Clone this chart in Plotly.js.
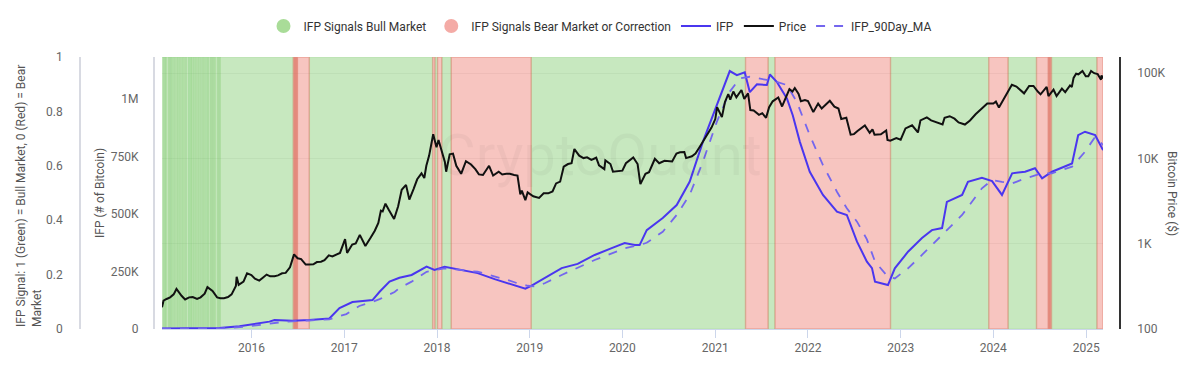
<!DOCTYPE html>
<html><head><meta charset="utf-8">
<script src="https://cdn.plot.ly/plotly-3.0.1.min.js"></script>
<style>html,body{margin:0;padding:0;background:#fff}#chart{width:1200px;height:378px}</style>
</head><body><div id="chart"></div>
<script>
// ---- Signal periods (start, end) ----
const bullPeriods = [
 ['2015-01-14','2015-01-20'],['2015-01-20','2015-01-24'],['2015-01-24','2015-01-28'],['2015-01-28','2015-01-31'],
 ['2015-01-31','2015-02-08'],['2015-02-08','2015-02-12'],['2015-02-12','2015-02-16'],['2015-02-16','2015-02-20'],
 ['2015-02-20','2015-02-24'],['2015-02-24','2015-03-01'],['2015-03-01','2015-03-06'],['2015-03-06','2015-03-11'],
 ['2015-03-11','2015-03-16'],['2015-03-16','2015-03-21'],['2015-03-21','2015-03-26'],['2015-03-26','2015-03-31'],
 ['2015-03-31','2015-04-05'],['2015-04-05','2015-04-10'],['2015-04-10','2015-04-15'],['2015-04-15','2015-04-20'],
 ['2015-04-20','2015-04-28'],['2015-04-28','2015-05-02'],['2015-05-02','2015-05-06'],['2015-05-06','2015-05-10'],
 ['2015-05-10','2015-05-13'],['2015-05-13','2015-05-18'],['2015-05-18','2015-05-23'],['2015-05-23','2015-05-28'],
 ['2015-05-28','2015-06-02'],['2015-06-02','2015-06-07'],['2015-06-07','2015-06-12'],['2015-06-12','2015-06-17'],
 ['2015-06-17','2015-06-22'],['2015-06-22','2015-06-27'],['2015-06-27','2015-07-02'],['2015-07-02','2015-07-07'],
 ['2015-07-07','2015-07-12'],['2015-07-12','2015-07-16'],['2015-07-16','2015-07-23'],['2015-07-23','2015-07-27'],
 ['2015-07-27','2015-07-31'],['2015-07-31','2015-08-04'],['2015-08-04','2015-08-08'],['2015-08-08','2015-08-12'],
 ['2015-08-12','2015-08-20'],['2015-08-20','2015-08-24'],['2015-08-24','2015-08-28'],['2015-08-28','2015-09-01'],
 ['2015-09-01','2016-06-14'],
 ['2016-08-16','2017-12-15'],
 ['2017-12-24','2018-01-03'],
 ['2018-01-20','2018-02-26'],
 ['2019-01-07','2021-04-30'],
 ['2021-07-28','2021-08-24'],
 ['2022-11-22','2023-12-14'],
 ['2024-02-28','2024-06-19'],
 ['2024-08-17','2025-02-12']
];
const bearPeriods = [
 ['2016-06-14','2016-06-18'],['2016-06-18','2016-06-22'],['2016-06-22','2016-06-26'],['2016-06-26','2016-06-30'],
 ['2016-06-30','2016-08-16'],
 ['2017-12-15','2017-12-24'],
 ['2018-01-03','2018-01-20'],
 ['2018-02-26','2019-01-07'],
 ['2021-04-30','2021-07-28'],
 ['2021-08-24','2022-11-22'],
 ['2023-12-14','2024-02-28'],
 ['2024-06-19','2024-08-05'],['2024-08-05','2024-08-09'],['2024-08-09','2024-08-13'],['2024-08-13','2024-08-17'],
 ['2025-02-12','2025-03-08']
];

// ---- IFP (# of Bitcoin) ----
const ifpDates = ['2015-01-14','2015-05-01','2015-08-28','2015-11-15','2016-01-13','2016-03-12','2016-04-01','2016-05-10','2016-06-11','2016-08-17','2016-10-01','2016-11-03','2016-12-13','2017-01-10','2017-02-02','2017-03-15','2017-04-22','2017-05-20','2017-06-28','2017-08-06','2017-09-23','2017-11-21','2017-12-22','2018-01-31','2018-04-08','2018-06-10','2018-08-16','2018-10-06','2018-11-22','2018-12-15','2019-01-07','2019-03-01','2019-05-07','2019-07-09','2019-09-14','2019-11-20','2020-01-10','2020-02-19','2020-03-09','2020-04-06','2020-06-08','2020-08-02','2020-09-22','2020-11-13','2021-01-07','2021-02-27','2021-03-27','2021-04-27','2021-05-17','2021-06-14','2021-07-23','2021-08-04','2021-08-31','2021-10-10','2021-11-02','2021-11-30','2022-01-08','2022-03-01','2022-04-25','2022-06-03','2022-07-13','2022-08-21','2022-09-10','2022-09-22','2022-11-12','2022-12-09','2023-01-30','2023-03-26','2023-05-04','2023-06-13','2023-07-02','2023-08-31','2023-09-23','2023-11-17','2023-12-27','2024-02-04','2024-03-15','2024-05-05','2024-06-13','2024-07-11','2024-08-19','2024-11-06','2024-11-30','2024-12-27','2025-02-05','2025-03-08'];
const ifpValues = [2000,3000,4000,12000,22000,32000,39000,37000,36000,39000,42000,46000,91000,105000,117000,122000,126000,162000,206000,223000,235000,271000,257000,271000,257000,243000,217000,200000,185000,175000,188000,222000,265000,283000,322000,352000,374000,365000,365000,430000,483000,539000,640000,814000,974000,1122000,1104000,1116000,1030000,1064000,1061000,1107000,1075000,1003000,930000,814000,684000,583000,510000,496000,380000,293000,265000,206000,191000,264000,336000,396000,430000,439000,553000,583000,640000,658000,643000,583000,677000,684000,699000,655000,684000,720000,843000,858000,843000,778000];

// ---- IFP 90-day moving average ----
const maDates = ['2015-01-14','2015-09-01','2015-12-01','2016-03-01','2016-05-15','2016-08-15','2016-11-03','2017-01-09','2017-03-01','2017-04-22','2017-05-20','2017-07-18','2017-08-06','2017-09-23','2017-11-21','2018-01-31','2018-06-10','2018-10-06','2018-11-22','2018-12-24','2019-01-20','2019-03-01','2019-05-07','2019-09-14','2020-01-10','2020-03-09','2020-04-06','2020-06-08','2020-08-02','2020-09-22','2020-11-13','2021-01-07','2021-02-27','2021-04-07','2021-05-17','2021-07-23','2021-08-31','2021-10-10','2021-11-18','2022-01-08','2022-03-01','2022-04-25','2022-06-03','2022-07-13','2022-08-21','2022-09-22','2022-11-12','2022-12-09','2023-01-30','2023-03-26','2023-06-13','2023-08-31','2023-11-17','2023-12-27','2024-02-04','2024-03-15','2024-05-05','2024-07-11','2024-08-19','2024-11-06','2024-12-27','2025-02-05','2025-03-08'];
const maValues = [1000,3000,9000,20000,32000,37000,42000,65000,100000,118000,130000,161000,178000,206000,249000,264000,249000,213000,196000,188000,185000,199000,235000,300000,351000,365000,375000,423000,496000,583000,727000,901000,1032000,1090000,1097000,1083000,1075000,1061000,988000,843000,713000,597000,525000,467000,390000,293000,227000,220000,264000,322000,409000,496000,612000,648000,640000,633000,655000,677000,677000,706000,771000,836000,800000];

// ---- Bitcoin price ($) ----
const priceDates = ['2015-01-14','2015-01-20','2015-02-01','2015-02-15','2015-03-01','2015-03-12','2015-04-01','2015-04-15','2015-05-01','2015-05-15','2015-06-01','2015-06-15','2015-07-01','2015-07-12','2015-08-01','2015-08-19','2015-09-01','2015-09-15','2015-10-01','2015-10-15','2015-11-01','2015-11-04','2015-11-12','2015-12-01','2015-12-15','2016-01-01','2016-01-15','2016-02-01','2016-02-15','2016-03-01','2016-03-15','2016-04-01','2016-04-15','2016-05-01','2016-05-15','2016-06-01','2016-06-17','2016-07-01','2016-07-15','2016-08-02','2016-08-15','2016-09-01','2016-09-15','2016-10-01','2016-10-15','2016-11-01','2016-11-15','2016-12-01','2016-12-15','2017-01-04','2017-01-12','2017-02-01','2017-02-15','2017-03-03','2017-03-25','2017-04-15','2017-05-01','2017-05-15','2017-05-25','2017-06-01','2017-06-12','2017-06-25','2017-07-16','2017-08-01','2017-08-15','2017-09-01','2017-09-14','2017-10-01','2017-10-15','2017-11-01','2017-11-12','2017-11-20','2017-12-01','2017-12-17','2017-12-30','2018-01-07','2018-01-15','2018-02-01','2018-02-06','2018-02-20','2018-03-05','2018-03-18','2018-04-06','2018-04-25','2018-05-15','2018-06-01','2018-06-15','2018-07-01','2018-07-25','2018-08-10','2018-09-01','2018-09-15','2018-10-01','2018-10-15','2018-11-01','2018-11-14','2018-11-25','2018-12-01','2018-12-15','2018-12-24','2019-01-15','2019-02-07','2019-02-25','2019-03-15','2019-04-01','2019-04-15','2019-05-01','2019-05-15','2019-06-01','2019-06-15','2019-06-26','2019-07-15','2019-08-01','2019-08-15','2019-09-01','2019-09-20','2019-10-01','2019-10-22','2019-10-26','2019-11-15','2019-11-25','2019-12-15','2020-01-01','2020-01-15','2020-02-13','2020-03-01','2020-03-12','2020-04-01','2020-04-15','2020-05-08','2020-05-25','2020-06-15','2020-07-01','2020-07-15','2020-08-01','2020-08-15','2020-09-01','2020-09-08','2020-10-01','2020-10-15','2020-11-01','2020-11-15','2020-12-01','2020-12-17','2021-01-01','2021-01-08','2021-01-27','2021-02-08','2021-02-21','2021-03-01','2021-03-13','2021-03-25','2021-04-14','2021-04-25','2021-05-10','2021-05-19','2021-06-01','2021-06-22','2021-07-05','2021-07-20','2021-08-01','2021-08-15','2021-09-06','2021-09-21','2021-10-01','2021-10-20','2021-11-01','2021-11-10','2021-11-25','2021-12-04','2021-12-20','2022-01-01','2022-01-22','2022-02-10','2022-02-24','2022-03-28','2022-04-15','2022-05-01','2022-05-12','2022-06-01','2022-06-18','2022-07-01','2022-07-15','2022-08-13','2022-09-01','2022-09-12','2022-09-20','2022-10-15','2022-11-05','2022-11-10','2022-11-21','2022-12-15','2023-01-01','2023-01-20','2023-02-15','2023-03-10','2023-03-20','2023-04-14','2023-05-01','2023-05-15','2023-06-15','2023-06-23','2023-07-13','2023-08-01','2023-08-17','2023-09-11','2023-10-01','2023-10-23','2023-11-15','2023-12-08','2024-01-01','2024-01-11','2024-01-23','2024-02-15','2024-03-01','2024-03-14','2024-04-01','2024-04-15','2024-05-01','2024-05-21','2024-06-07','2024-06-24','2024-07-05','2024-07-29','2024-08-05','2024-08-25','2024-09-06','2024-09-27','2024-10-10','2024-10-29','2024-11-05','2024-11-12','2024-11-22','2024-12-01','2024-12-17','2024-12-30','2025-01-09','2025-01-20','2025-02-01','2025-02-15','2025-02-28','2025-03-02','2025-03-08'];
const priceValues = [180,215,225,235,255,295,245,222,235,237,225,235,260,310,280,235,230,230,237,255,320,410,330,360,450,430,390,370,400,435,415,415,425,450,455,530,750,675,660,570,570,575,610,615,640,730,710,750,780,1130,780,980,1010,1270,940,1180,1420,1750,2450,2400,2950,2500,1950,2750,4300,4900,3300,4400,5700,6700,5900,8200,10800,19200,13500,16500,13800,9100,7000,11200,11400,8200,6600,9300,8500,7500,6500,6400,8200,6300,7000,6500,6600,6600,6400,6300,3800,4200,3250,4000,3600,3450,3900,3900,4100,5100,5350,8000,8600,8800,12900,10800,10100,10300,9600,10200,8300,7500,9500,8600,7000,7100,7200,8800,10300,8600,5000,6600,6900,9900,8800,9400,9200,9200,11400,11800,11900,10100,10600,11400,13700,16000,19000,23000,29000,40000,30500,46000,57000,49000,61000,52000,63500,50000,58000,37000,36500,32500,34000,30000,40000,46800,52000,40700,48000,65000,61000,67000,57000,47000,48500,47000,35000,44000,38500,47500,40500,38500,29000,30000,19000,19300,21000,24400,20000,22000,19000,19200,21300,16500,16200,17300,16600,22500,24500,20200,28000,30300,28000,27200,25100,30000,31300,29300,26500,25000,27900,33000,37900,44000,44200,46500,39500,52000,62000,73000,69700,63500,58000,71000,71000,61000,56500,69000,54000,64000,54000,66000,60000,72000,69000,88000,98500,97000,106000,92000,92000,106000,100000,97500,84000,94000,86500];

function bars(periods) {
  const x = [], w = [], y = [];
  periods.forEach(p => {
    const s = Date.parse(p[0] + 'T00:00:00Z'), e = Date.parse(p[1] + 'T00:00:00Z');
    x.push((s + e) / 2); w.push(e - s); y.push(1);
  });
  return {x, w, y};
}
const bull = bars(bullPeriods), bear = bars(bearPeriods);

const font = 'Roboto, "Noto Sans", sans-serif';
const traces = [
  {type:'bar', x:bull.x, y:bull.y, width:bull.w, yaxis:'y', xaxis:'x', showlegend:false, legendgroup:'bull', hoverinfo:'skip',
   marker:{color:'rgba(144,210,128,0.5)', line:{color:'rgba(120,200,100,0.22)', width:1}}},
  {type:'bar', x:bear.x, y:bear.y, width:bear.w, yaxis:'y', xaxis:'x', showlegend:false, legendgroup:'bear', hoverinfo:'skip',
   marker:{color:'rgba(240,140,130,0.5)', line:{color:'rgba(215,100,80,0.35)', width:1.5}}},
  {type:'scatter', mode:'markers', x:[null], y:[null], name:'IFP Signals Bull Market', legendgroup:'bull',
   marker:{color:'#a9dc98', size:14, symbol:'circle'}},
  {type:'scatter', mode:'markers', x:[null], y:[null], name:'IFP Signals Bear Market or Correction', legendgroup:'bear',
   marker:{color:'#f4aba6', size:14, symbol:'circle'}},
  {type:'scatter', mode:'lines', x:ifpDates, y:ifpValues, yaxis:'y2', name:'IFP',
   line:{color:'#4a36ef', width:2}},
  {type:'scatter', mode:'lines', x:priceDates, y:priceValues, yaxis:'y3', name:'Price',
   line:{color:'#111111', width:2}},
  {type:'scatter', mode:'lines', x:maDates, y:maValues, yaxis:'y2', name:'IFP_90Day_MA',
   line:{color:'#7466ee', width:1.8, dash:'dash'}}
];

const tickfont = {family:font, size:12, color:'#666'};
const layout = {
  width:1200, height:378,
  margin:{l:0, r:0, t:57, b:49},
  paper_bgcolor:'#fff', plot_bgcolor:'#fff',
  font:{family:font, size:12, color:'#333'},
  barmode:'overlay',
  showlegend:true,
  legend:{orientation:'h', x:0.5, xanchor:'center', y:1.114, yanchor:'middle', font:{family:font, size:12, color:'#333'}, itemwidth:30},
  xaxis:{type:'date', domain:[0.135, 0.9192], range:['2015-01-14','2025-03-08'], showgrid:false,
    showline:true, linecolor:'#ccd6eb', ticks:'outside', ticklen:8, tickcolor:'#ccd6eb',
    tick0:'2016-01-01', dtick:'M12', tickformat:'%Y', tickfont:tickfont, zeroline:false},
  yaxis:{range:[0,1], anchor:'free', position:0.0667, side:'left', showgrid:false, zeroline:false,
    showline:true, linecolor:'#d8dae2', linewidth:2, ticks:'', ticklabelstandoff:14,
    tickvals:[0,0.2,0.4,0.6,0.8,1], ticktext:['0','0.2','0.4','0.6','0.8','1'], tickfont:tickfont, fixedrange:true},
  yaxis2:{overlaying:'y', anchor:'free', position:0.1283, side:'left', range:[0,1183000], showgrid:false, zeroline:false,
    showline:true, linecolor:'#d8dae2', linewidth:2, ticks:'', ticklabelstandoff:12,
    tickvals:[0,250000,500000,750000,1000000], ticktext:['0','250K','500K','750K','1M'], tickfont:tickfont},
  yaxis3:{overlaying:'y', anchor:'free', position:0.9333, side:'right', type:'log', range:[2,5.19],
    showgrid:true, gridcolor:'#ececec', zeroline:false,
    showline:true, linecolor:'#333', linewidth:2, ticks:'', ticklabelstandoff:14,
    tickvals:[100,1000,10000,100000], ticktext:['100','1K','10K','100K'], tickfont:tickfont},
  annotations:[
    {text:'IFP Signal: 1 (Green) = Bull Market, 0 (Red) = Bear<br>Market', xref:'paper', yref:'paper',
     x:29/1200, y:0, xanchor:'center', yanchor:'bottom', textangle:-90, align:'left', showarrow:false,
     font:{family:font, size:12, color:'#555'}},
    {text:'IFP (# of Bitcoin)', xref:'paper', yref:'paper', x:100/1200, y:0.5, xanchor:'center', yanchor:'middle',
     textangle:-90, showarrow:false, font:{family:font, size:12, color:'#555'}},
    {text:'Bitcoin Price ($)', xref:'paper', yref:'paper', x:1172/1200, y:0.5, xanchor:'center', yanchor:'middle',
     textangle:90, showarrow:false, font:{family:font, size:12, color:'#555'}},
    {text:'CryptoQuant', xref:'paper', yref:'paper', x:0.5, y:0.64, xanchor:'center', yanchor:'middle', showarrow:false,
     font:{family:font, size:58, color:'rgba(0,0,0,0.035)'}}
  ]
};
Plotly.newPlot('chart', traces, layout, {staticPlot:true, displayModeBar:false});
</script></body></html>
